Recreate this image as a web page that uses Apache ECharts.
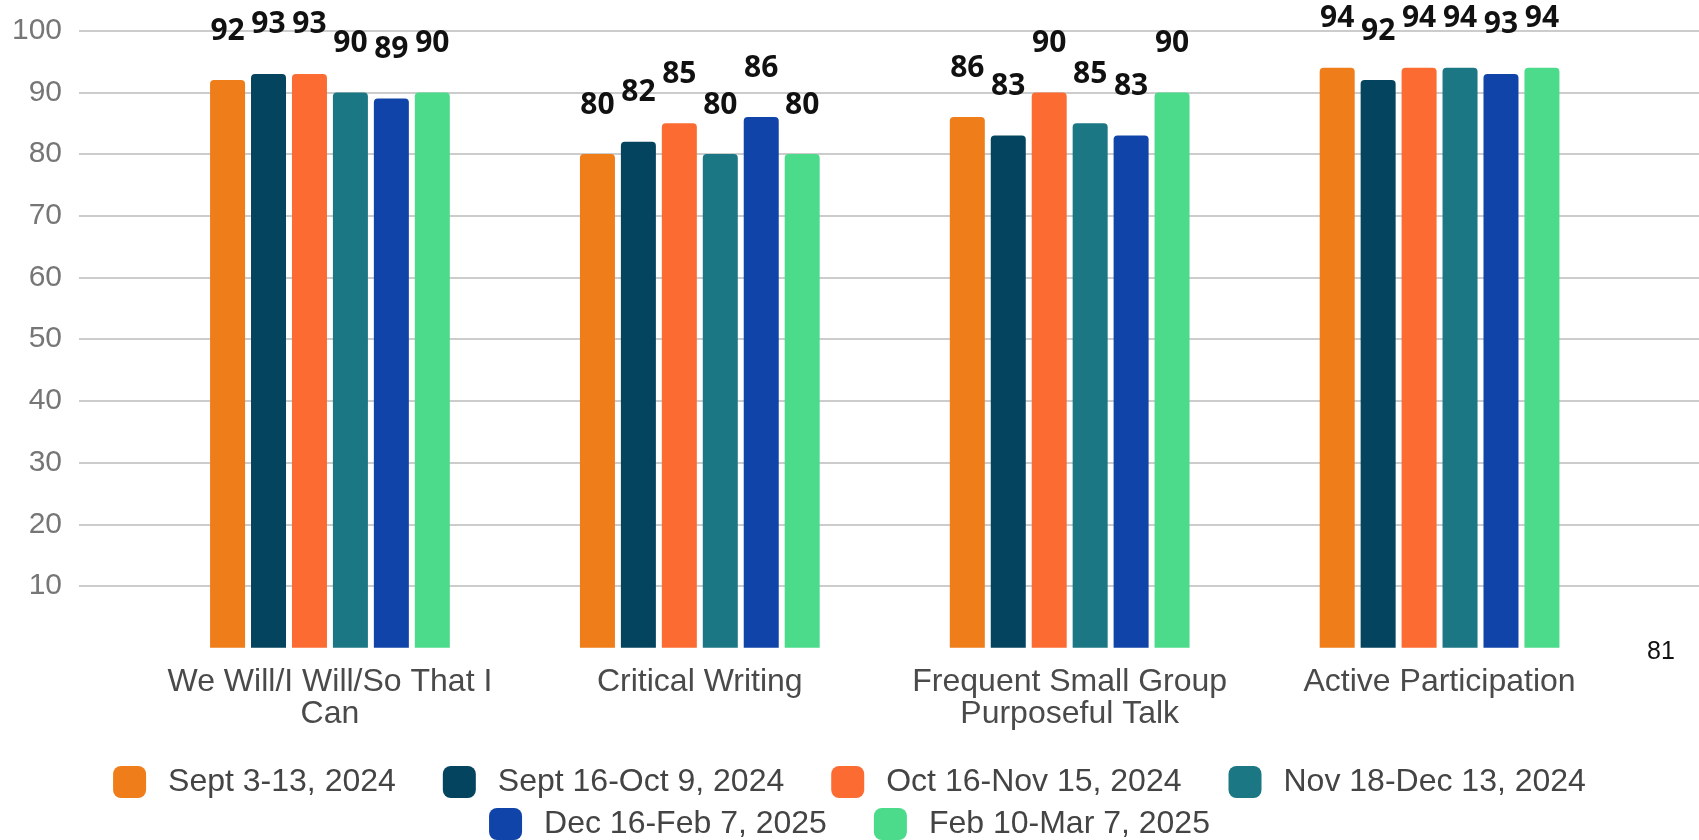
<!DOCTYPE html>
<html>
<head>
<meta charset="utf-8">
<script src="https://cdn.jsdelivr.net/npm/echarts@6/dist/echarts.min.js"></script>
<style>
html,body{margin:0;padding:0;background:#fff;}
#chart{width:1699px;height:840px;}
</style>
</head>
<body>
<div id="chart"></div>
<script>
var categories = ["We Will/I Will/So That I\nCan", "Critical Writing", "Frequent Small Group\nPurposeful Talk", "Active Participation"];
var seriesNames = ["Sept 3-13, 2024", "Sept 16-Oct 9, 2024", "Oct 16-Nov 15, 2024", "Nov 18-Dec 13, 2024", "Dec 16-Feb 7, 2025", "Feb 10-Mar 7, 2025"];
var sept3_13 = [92, 80, 86, 94];
var sept16_oct9 = [93, 82, 83, 92];
var oct16_nov15 = [93, 85, 90, 94];
var nov18_dec13 = [90, 80, 85, 94];
var dec16_feb7 = [89, 86, 83, 93];
var feb10_mar7 = [90, 80, 90, 94];
var yTicks = [0, 10, 20, 30, 40, 50, 60, 70, 80, 90, 100];
var pageNumber = "81";

var seriesValues = [sept3_13, sept16_oct9, oct16_nov15, nov18_dec13, dec16_feb7, feb10_mar7];
var colors = ["#EF7D19", "#05445E", "#FC6B31", "#1C7785", "#1144A8", "#4CDB8B"];

var chart = echarts.init(document.getElementById('chart'), null, {renderer: 'canvas'});

var series = seriesValues.map(function (vals, i) {
  return {
    name: seriesNames[i],
    type: 'bar',
    xAxisIndex: 1,
    yAxisIndex: 1,
    data: vals,
    barWidth: 35,
    barGap: '17%',
    itemStyle: {color: colors[i], borderRadius: [4, 4, 0, 0]},
    label: {
      show: true,
      position: 'top',
      distance: 34,
      color: '#111',
      fontFamily: 'Open Sans',
      fontWeight: 'bold',
      fontSize: 30
    }
  };
});

var legendCommon = {
  left: 'center',
  orient: 'horizontal',
  icon: 'roundRect',
  itemWidth: 33,
  itemHeight: 32,
  itemGap: 47,
  selectedMode: false,
  textStyle: {
    color: '#444',
    fontFamily: 'Liberation Sans',
    fontSize: 32,
    padding: [0, 0, 0, 17]
  }
};

var option = {
  animation: false,
  backgroundColor: '#ffffff',
  color: colors,
  grid: [
    {left: 79, right: 0, top: 30.7, bottom: 192.3},
    {left: 145, right: 74.5, top: 30.7, bottom: 192.3}
  ],
  legend: [
    Object.assign({}, legendCommon, {top: 761, data: seriesNames.slice(0, 4)}),
    Object.assign({}, legendCommon, {top: 803, data: seriesNames.slice(4)})
  ],
  xAxis: [
    {type: 'value', gridIndex: 0, show: false, min: 0, max: 1},
    {
      type: 'category',
      gridIndex: 1,
      data: categories,
      axisLine: {show: false},
      axisTick: {show: false},
      axisLabel: {
        interval: 0,
        margin: 18,
        color: '#4a4a4a',
        fontFamily: 'Liberation Sans',
        fontSize: 32,
        lineHeight: 32,
        align: 'center'
      }
    }
  ],
  yAxis: [
    {
      type: 'value',
      gridIndex: 0,
      min: yTicks[0],
      max: yTicks[yTicks.length - 1],
      interval: yTicks[1] - yTicks[0],
      axisLine: {show: false},
      axisTick: {show: false},
      splitLine: {show: true, showMinLine: false, lineStyle: {color: '#cccccc', width: 2}},
      axisLabel: {
        margin: 17,
        color: '#767676',
        fontFamily: 'Liberation Sans',
        fontSize: 30,
        formatter: function (v) { return v === 0 ? '' : String(v); }
      }
    },
    {
      type: 'value',
      gridIndex: 1,
      min: yTicks[0],
      max: yTicks[yTicks.length - 1],
      interval: yTicks[1] - yTicks[0],
      show: false
    }
  ],
  graphic: [
    {
      type: 'text',
      left: 1647,
      top: 640,
      style: {
        text: pageNumber,
        fill: '#111',
        font: '25px "Liberation Sans"'
      }
    }
  ],
  series: series
};

chart.setOption(option);
</script>
</body>
</html>
